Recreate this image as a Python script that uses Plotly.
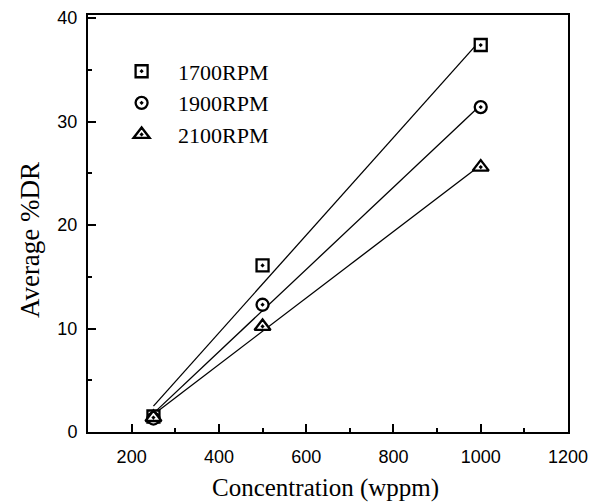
import plotly.graph_objects as go

conc = [250, 500, 1000]
series_names = ["1700RPM", "1900RPM", "2100RPM"]
dr_1700 = [1.5, 16.1, 37.4]
dr_1900 = [1.3, 12.3, 31.4]
dr_2100 = [1.4, 10.2, 25.6]
# straight fitted lines (end points at 250 and 1000 wppm)
fit_x = [250, 1000]
fit_1700 = [2.5, 37.9]
fit_1900 = [1.8, 31.6]
fit_2100 = [1.7, 25.8]

x_ticks = [200, 400, 600, 800, 1000, 1200]
y_ticks = [0, 10, 20, 30, 40]
x_title = "Concentration (wppm)"
y_title = "Average %DR"

symbols = ["square-dot", "circle-dot", "triangle-up-dot"]
sizes = [12, 12, 14]
values = [dr_1700, dr_1900, dr_2100]
fits = [fit_1700, fit_1900, fit_2100]

fig = go.Figure()
for f in fits:
    fig.add_trace(go.Scatter(x=fit_x, y=f, mode="lines",
                             line=dict(color="black", width=1.3),
                             showlegend=False, hoverinfo="skip"))
for name, v, s, sz in zip(series_names, values, symbols, sizes):
    fig.add_trace(go.Scatter(x=conc, y=v, mode="markers",
                             name="\u00a0\u00a0\u00a0" + name,
                             marker=dict(symbol=s, size=sz, color="white",
                                         line=dict(color="black", width=2.3))))

serif = "Liberation Serif, Times New Roman, serif"
sans = "Liberation Sans, Arial, sans-serif"

fig.update_layout(
    width=601, height=502,
    margin=dict(l=88, r=33, t=15, b=70),
    paper_bgcolor="white", plot_bgcolor="white",
    showlegend=True,
    legend=dict(x=0.07, y=0.915, xanchor="left", yanchor="top",
                bgcolor="rgba(0,0,0,0)", font=dict(family=serif, size=22, color="black"),
                tracegroupgap=0),
    annotations=[
        dict(text=x_title, xref="paper", yref="paper", x=0.494, y=-0.134,
             xanchor="center", yanchor="middle", showarrow=False,
             font=dict(family=serif, size=25, color="black")),
        dict(text=y_title, xref="paper", yref="paper", x=-0.121, y=0.46,
             xanchor="center", yanchor="middle", showarrow=False, textangle=-90,
             font=dict(family=serif, size=27, color="black")),
    ],
)
fig.update_xaxes(
    range=[100, 1200], tickvals=x_ticks, ticks="inside", ticklen=8, tickwidth=2,
    tickcolor="black", showline=True, linecolor="black", linewidth=2, mirror=True,
    showgrid=False, zeroline=False, automargin=False,
    minor=dict(tickvals=[300, 500, 700, 900, 1100], ticks="inside", ticklen=4,
               tickwidth=2, tickcolor="black"),
    tickfont=dict(family=sans, size=18, color="black"), ticklabelstandoff=7,
)
fig.update_yaxes(
    range=[0, 40.3], tickvals=y_ticks, ticks="inside", ticklen=8, tickwidth=2,
    tickcolor="black", showline=True, linecolor="black", linewidth=2, mirror=True,
    showgrid=False, zeroline=False, automargin=False,
    minor=dict(tickvals=[5, 15, 25, 35], ticks="inside", ticklen=4,
               tickwidth=2, tickcolor="black"),
    tickfont=dict(family=sans, size=18, color="black"), ticklabelstandoff=5,
)

fig.write_html("out.html")
